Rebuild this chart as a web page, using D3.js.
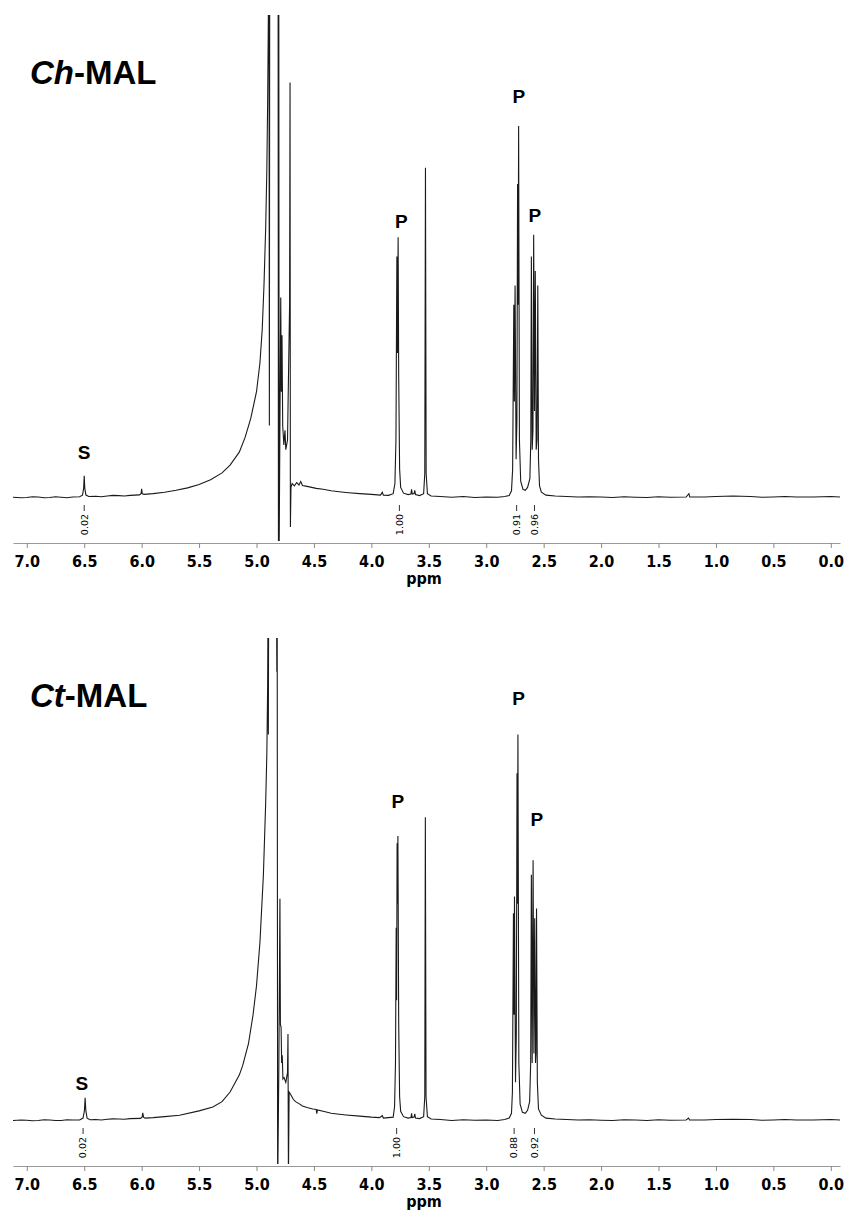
<!DOCTYPE html>
<html>
<head>
<meta charset="utf-8">
<script src="https://cdn.jsdelivr.net/npm/d3@7/dist/d3.min.js"></script>
<style>
  body { margin: 0; background: #fff; }
  svg { display: block; }
</style>
</head>
<body>
<div class="canva"></div>
<script>
// axis ticks
const majorTicks = [7.0, 6.5, 6.0, 5.5, 5.0, 4.5, 4.0, 3.5, 3.0, 2.5, 2.0, 1.5, 1.0, 0.5, 0.0];
const tickLabels = ['7.0', '6.5', '6.0', '5.5', '5.0', '4.5', '4.0', '3.5', '3.0', '2.5', '2.0', '1.5', '1.0', '0.5', '0.0'];
const minorTicks = [6.75, 6.25, 5.75, 5.25, 4.75, 4.25, 3.75, 3.25, 2.75, 2.25, 1.75, 1.25, 0.75, 0.25];

// Ch-MAL trace (ppm, intensity; 100 = top of plot)
const chPpm = [7.12, 7.05, 7.00, 6.95, 6.90, 6.85, 6.80, 6.75, 6.70, 6.65, 6.60, 6.54, 6.515, 6.505, 6.500, 6.495, 6.485, 6.46, 6.40, 6.35, 6.30, 6.25, 6.20, 6.15, 6.10, 6.02, 6.005, 6.000, 5.995, 5.98, 5.90, 5.80, 5.70, 5.60, 5.50, 5.40, 5.30, 5.23, 5.15, 5.10, 5.05, 5.00, 4.97, 4.95, 4.935, 4.92, 4.91, 4.903, 4.898, 4.894, 4.891, 4.888, 4.885, 4.812, 4.809, 4.806, 4.803, 4.795, 4.789, 4.784, 4.778, 4.772, 4.762, 4.752, 4.745, 4.730, 4.712, 4.708, 4.705, 4.700, 4.690, 4.670, 4.650, 4.630, 4.615, 4.600, 4.560, 4.520, 4.480, 4.420, 4.350, 4.280, 4.200, 4.100, 4.000, 3.920, 3.905, 3.895, 3.85, 3.81, 3.795, 3.786, 3.778, 3.773, 3.767, 3.762, 3.754, 3.745, 3.72, 3.68, 3.656, 3.650, 3.644, 3.628, 3.622, 3.616, 3.58, 3.545, 3.535, 3.529, 3.523, 3.512, 3.48, 3.40, 3.30, 3.20, 3.10, 3.00, 2.90, 2.84, 2.80, 2.78, 2.770, 2.760, 2.755, 2.749, 2.740, 2.733, 2.727, 2.722, 2.718, 2.711, 2.700, 2.680, 2.660, 2.640, 2.620, 2.612, 2.607, 2.600, 2.593, 2.587, 2.580, 2.573, 2.565, 2.558, 2.551, 2.545, 2.536, 2.52, 2.48, 2.40, 2.30, 2.20, 2.10, 2.00, 1.90, 1.80, 1.70, 1.60, 1.50, 1.40, 1.26, 1.235, 1.228, 1.10, 1.00, 0.85, 0.70, 0.60, 0.50, 0.40, 0.30, 0.15, 0.00, -0.08];
const chInt = [0.15, 0.05, 0.10, 0.25, 0.20, 0.05, 0.10, 0.25, 0.15, 0.05, 0.20, 0.25, 0.6, 2.0, 4.6, 2.0, 0.6, 0.3, 0.35, 0.25, 0.4, 0.55, 0.5, 0.4, 0.55, 0.65, 0.9, 1.9, 0.9, 0.75, 0.9, 1.2, 1.6, 2.1, 2.8, 3.8, 5.2, 6.8, 9.5, 12.5, 16.5, 22, 28, 35, 44, 56, 68, 82, 96, 110, 110, 15, 110, 110, -12, 110, -12, 20, 41.5, 22, 33.7, 15, 11, 14, 10, 12, 40, 86, -6, 2.2, 3.0, 2.5, 3.2, 2.7, 3.4, 2.6, 2.4, 2.2, 2.0, 1.8, 1.5, 1.3, 1.1, 0.9, 0.75, 0.6, 1.2, 0.6, 0.55, 0.9, 3.0, 12, 50, 30, 54, 25, 6, 2.2, 1.0, 0.7, 0.8, 1.8, 0.8, 0.9, 1.6, 0.7, 0.5, 0.9, 5, 68.4, 5, 0.9, 0.4, 0.3, 0.15, 0.3, 0.1, 0.2, 0.15, 0.3, 0.5, 1.5, 6, 40, 20, 44, 8, 16, 65, 40, 77, 12, 3.5, 1.8, 1.6, 2.2, 4, 12, 50, 10, 14, 54.5, 18, 47, 10, 12, 44, 8, 2.5, 1.2, 0.6, 0.4, 0.3, 0.2, 0.25, 0.2, 0.1, 0.25, 0.15, 0.1, 0.25, 0.15, 0.2, 0.9, 0.2, 0.2, 0.3, 0.4, 0.3, 0.15, 0.2, 0.3, 0.2, 0.2, 0.3, 0.2, 0.2];

// Ct-MAL trace
const ctPpm = [7.12, 7.05, 7.00, 6.95, 6.90, 6.85, 6.80, 6.75, 6.70, 6.65, 6.60, 6.54, 6.51, 6.498, 6.492, 6.486, 6.475, 6.45, 6.40, 6.35, 6.30, 6.25, 6.20, 6.15, 6.10, 6.01, 5.996, 5.990, 5.984, 5.97, 5.90, 5.80, 5.67, 5.50, 5.38, 5.30, 5.23, 5.15, 5.12, 5.07, 5.03, 5.00, 4.97, 4.94, 4.92, 4.91, 4.903, 4.899, 4.897, 4.894, 4.826, 4.823, 4.820, 4.816, 4.806, 4.796, 4.792, 4.786, 4.781, 4.776, 4.770, 4.760, 4.745, 4.730, 4.726, 4.722, 4.716, 4.700, 4.680, 4.660, 4.630, 4.600, 4.560, 4.510, 4.480, 4.475, 4.470, 4.420, 4.350, 4.280, 4.220, 4.100, 4.000, 3.930, 3.905, 3.895, 3.81, 3.798, 3.790, 3.784, 3.780, 3.776, 3.773, 3.769, 3.762, 3.754, 3.745, 3.72, 3.68, 3.655, 3.650, 3.645, 3.628, 3.622, 3.616, 3.58, 3.545, 3.535, 3.530, 3.524, 3.512, 3.48, 3.40, 3.30, 3.20, 3.10, 3.00, 2.90, 2.84, 2.80, 2.78, 2.772, 2.763, 2.758, 2.754, 2.745, 2.738, 2.732, 2.728, 2.724, 2.716, 2.705, 2.685, 2.660, 2.640, 2.622, 2.613, 2.607, 2.600, 2.592, 2.585, 2.578, 2.571, 2.567, 2.562, 2.555, 2.545, 2.52, 2.48, 2.40, 2.30, 2.20, 2.10, 2.00, 1.90, 1.80, 1.70, 1.60, 1.50, 1.40, 1.26, 1.238, 1.230, 1.10, 1.00, 0.85, 0.70, 0.60, 0.50, 0.40, 0.30, 0.15, 0.00, -0.08];
const ctInt = [0.10, 0.20, 0.15, 0.05, 0.10, 0.25, 0.20, 0.10, 0.10, 0.25, 0.20, 0.20, 0.6, 2.2, 4.8, 2.2, 0.6, 0.25, 0.3, 0.2, 0.35, 0.45, 0.4, 0.35, 0.5, 0.55, 0.8, 1.7, 0.8, 0.6, 0.7, 0.9, 1.2, 2.1, 2.9, 4.0, 6.0, 9.5, 11.5, 16, 22, 28, 37, 51, 66, 76, 90, 110, 80, 110, 110, 93, 110, -15, 10, 46, 20, 19.4, 12, 13.6, 8.7, 9, 8, 10, 18, -12, 6, 5.4, 4.5, 4.0, 3.6, 3.1, 2.8, 2.5, 2.4, 1.5, 2.3, 2.0, 1.6, 1.4, 1.25, 1.0, 0.8, 0.7, 1.1, 0.6, 0.8, 3, 12, 40, 25, 57.5, 45, 59, 20, 5, 2, 0.9, 0.6, 0.7, 1.6, 0.7, 0.8, 1.5, 0.6, 0.5, 0.9, 5, 62.9, 5, 0.9, 0.4, 0.3, 0.1, 0.25, 0.15, 0.2, 0.1, 0.3, 0.6, 1.6, 6, 43, 22, 46.5, 8, 18, 72, 45, 80, 12, 3.5, 1.8, 1.6, 2.2, 4, 12, 51, 12, 54, 14, 42, 12, 14, 44, 8, 2.5, 1.2, 0.6, 0.4, 0.3, 0.2, 0.25, 0.15, 0.1, 0.25, 0.2, 0.1, 0.25, 0.15, 0.2, 0.6, 0.2, 0.2, 0.3, 0.35, 0.3, 0.15, 0.2, 0.3, 0.2, 0.2, 0.3, 0.2, 0.2];

// integrals
const chIntegralPpm = [6.50, 3.756, 2.735, 2.58];
const chIntegrals = ['0.02', '1.00', '0.91', '0.96'];
const ctIntegralPpm = [6.51, 3.78, 2.757, 2.58];
const ctIntegrals = ['0.02', '1.00', '0.88', '0.92'];

// peak letters (ppm, intensity at label centre)
const chLabels = ['S', 'P', 'P', 'P'];
const chLabelPpm = [6.50, 3.74, 2.715, 2.577];
const chLabelInt = [9.5, 57.3, 83.2, 58.6];
const ctLabels = ['S', 'P', 'P', 'P'];
const ctLabelPpm = [6.52, 3.77, 2.718, 2.56];
const ctLabelInt = [7.9, 66.3, 87.5, 62.4];

const width = 846, height = 1213;
const svg = d3.select('.canva').append('svg')
    .attr('width', width)
    .attr('height', height);

const x = d3.scaleLinear().domain([7.12, -0.08]).range([13, 840]);

const panels = [
  {id: 'ch', off: 0, ppm: chPpm, val: chInt, ip: chIntegralPpm, it: chIntegrals,
   lt: chLabels, lp: chLabelPpm, li: chLabelInt, pre: 'Ch', post: '-MAL'},
  {id: 'ct', off: 623, ppm: ctPpm, val: ctInt, ip: ctIntegralPpm, it: ctIntegrals,
   lt: ctLabels, lp: ctLabelPpm, li: ctLabelInt, pre: 'Ct', post: '-MAL'}
];

panels.forEach(p => {
  const g = svg.append('g').attr('transform', `translate(0,${p.off})`);
  const y = d3.scaleLinear().domain([0, 100]).range([498, 15]);

  g.append('clipPath').attr('id', 'clip-' + p.id)
    .append('rect').attr('x', 13).attr('y', 15).attr('width', 827).attr('height', 526);

  const line = d3.line().x(d => x(d[0])).y(d => y(d[1]));
  g.append('path')
    .datum(d3.zip(p.ppm, p.val))
    .attr('clip-path', `url(#clip-${p.id})`)
    .attr('d', line)
    .attr('fill', 'none')
    .attr('stroke', '#1a1a1a')
    .attr('stroke-width', 1.1);

  // title
  const t = g.append('text')
    .attr('x', 30).attr('y', 84)
    .attr('font-family', 'Liberation Sans, Arial, sans-serif')
    .attr('font-weight', 'bold')
    .attr('font-size', 33)
    .attr('fill', '#000');
  t.append('tspan').attr('font-style', 'italic').text(p.pre);
  t.append('tspan').text(p.post);

  // peak letters
  g.selectAll('.lab').data(d3.zip(p.lt, p.lp, p.li)).join('text')
    .attr('x', d => x(d[1]))
    .attr('y', d => y(d[2]))
    .attr('dy', '0.36em')
    .attr('text-anchor', 'middle')
    .attr('font-family', 'Liberation Sans, Arial, sans-serif')
    .attr('font-weight', 'bold')
    .attr('font-size', 19)
    .text(d => d[0]);

  // integrals
  const ig = g.selectAll('.integ').data(d3.zip(p.ip, p.it)).join('g')
    .attr('transform', d => `translate(${x(d[0])},0)`);
  ig.append('line')
    .attr('y1', 505).attr('y2', 511)
    .attr('stroke', '#333').attr('stroke-width', 1);
  ig.append('text')
    .attr('transform', 'translate(0,514) rotate(-90)')
    .attr('text-anchor', 'end')
    .attr('dy', '0.35em')
    .attr('font-family', 'DejaVu Sans, Verdana, sans-serif')
    .attr('font-size', 9.5)
    .attr('fill', '#000')
    .text(d => d[1]);

  // axis
  const ax = g.append('g').attr('transform', 'translate(0,543)');
  ax.call(d3.axisBottom(x).tickValues(minorTicks).tickSize(3).tickSizeOuter(0).tickFormat(''));
  ax.call(d3.axisBottom(x).tickValues(majorTicks).tickSize(5).tickSizeOuter(0).tickPadding(8)
    .tickFormat((d, i) => tickLabels[i]));
  ax.selectAll('.domain').attr('stroke', '#999');
  ax.selectAll('.tick line').attr('stroke', '#888');
  ax.selectAll('.tick text')
    .attr('font-family', 'DejaVu Sans Condensed, DejaVu Sans, sans-serif')
    .attr('font-weight', 'bold')
    .attr('font-size', 16)
    .attr('fill', '#000');

  g.append('text')
    .attr('x', 424).attr('y', 584)
    .attr('text-anchor', 'middle')
    .attr('font-family', 'DejaVu Sans Condensed, DejaVu Sans, sans-serif')
    .attr('font-weight', 'bold')
    .attr('font-size', 16)
    .text('ppm');
});
</script>
</body>
</html>
